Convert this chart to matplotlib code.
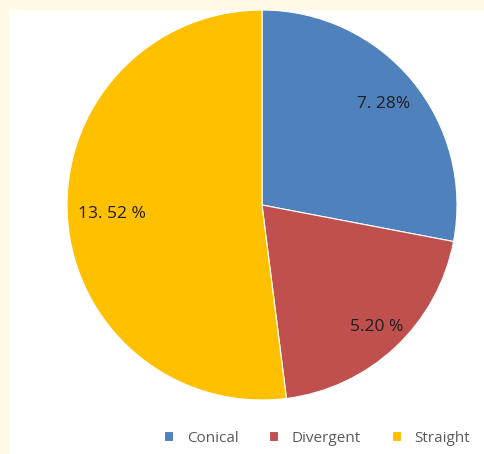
import numpy as np
import matplotlib.pyplot as plt
from matplotlib.patches import Rectangle

categories = ["Conical", "Divergent", "Straight"]
counts = [7, 5, 13]
pct_labels = ["7. 28%", "5.20 %", "13. 52 %"]

COLORS = ["#4F81BD", "#C0504D", "#FFC000"]
CREAM = "#FFFAE6"
W, H = 484, 454

fig = plt.figure(figsize=(W / 100, H / 100), dpi=100)
fig.patch.set_facecolor("white")
# cream frame on the left and top edges
fig.patches.append(Rectangle((0, 0), 8 / W, 1, transform=fig.transFigure, color=CREAM, zorder=0))
fig.patches.append(Rectangle((0, 1 - 9 / H), 1, 9 / H, transform=fig.transFigure, color=CREAM, zorder=0))

# pie centred at (262, 205) px with radius 195 px
cx, cy, r = 262, 205, 195
ax = fig.add_axes([(cx - r) / W, (H - cy - r) / H, 2 * r / W, 2 * r / H])
wedges, _ = ax.pie(
    counts,
    colors=COLORS,
    startangle=90,
    counterclock=False,
    radius=1,
    wedgeprops=dict(edgecolor="white", linewidth=0.8),
)
ax.set_xlim(-1, 1)
ax.set_ylim(-1, 1)
ax.axis("off")

# percentage labels, each at its own distance from the centre
dists = [0.81, 0.86, 0.77]
for w, lab, d in zip(wedges, pct_labels, dists):
    ang = np.deg2rad((w.theta1 + w.theta2) / 2)
    ax.text(d * np.cos(ang), d * np.sin(ang), lab, ha="center", va="center",
            fontsize=12.5, color="#1f1f1f", family="Open Sans")

fig.legend(
    wedges, categories, loc="center", bbox_to_anchor=(0.655, 1 - 438 / H),
    ncol=3, frameon=False, handlelength=0.6, handleheight=0.6,
    handletextpad=0.9, columnspacing=2.0,
    prop=dict(family="Open Sans", size=11), labelcolor="#595959",
)

fig.savefig("out.png", dpi=100, facecolor=fig.get_facecolor())
